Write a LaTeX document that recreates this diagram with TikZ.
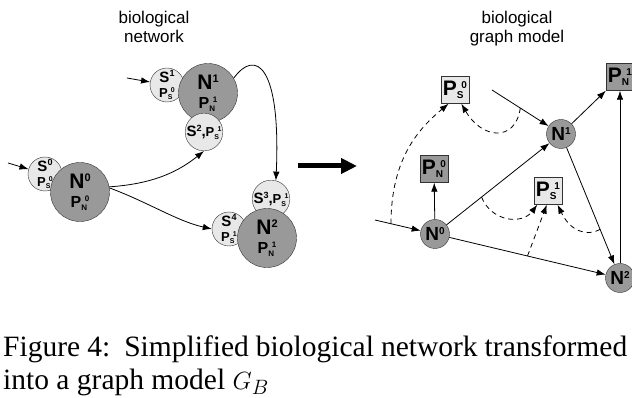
\documentclass[tikz,border=0pt]{standalone}
\usepackage{fontspec}
\setmainfont{Liberation Serif}
\setsansfont{Liberation Sans}
\usetikzlibrary{arrows.meta}

% letter with superscript, and letter with stacked sub/superscript
\newcommand{\supx}[3]{\textbf{#1}{\fontsize{#3}{#3}\selectfont\raisebox{0.65em}{#2}}}
\newcommand{\pidx}[4]{\textbf{#1}{\fontsize{#4}{#4}\selectfont\bfseries\rlap{\raisebox{-0.3em}{#2}}\raisebox{0.75em}{\hspace{0.45em}#3}}}
\newcommand{\smallp}[2]{{\fontsize{13}{16}\selectfont\pidx{P}{#1}{#2}{7}}}

\begin{document}
\begin{tikzpicture}[x=1pt, y=-1pt,
    bignode/.style={circle, draw=black!80, fill=gray!80, minimum size=59pt, inner sep=0pt, align=center, font=\sffamily\bfseries\fontsize{21}{19}\selectfont},
    smallnode/.style={circle, draw=black!80, fill=gray!18, minimum size=34pt, inner sep=0pt, align=center, font=\sffamily\bfseries\fontsize{15}{15}\selectfont},
    gnode/.style={circle, draw=black!80, fill=gray!80, minimum size=29pt, inner sep=0pt, font=\sffamily\bfseries\fontsize{19}{19}\selectfont},
    sbox/.style={rectangle, draw=black!80, fill=gray!18, minimum width=28pt, minimum height=27pt, inner sep=0pt, font=\sffamily\bfseries\fontsize{21}{21}\selectfont},
    nbox/.style={sbox, fill=gray!80},
    title/.style={align=center, inner sep=0pt, font=\sffamily\fontsize{17}{19}\selectfont},
    link/.style={-{Latex[length=9pt,width=6.5pt]}, line width=0.8pt},
    dlink/.style={link, dash pattern=on 5pt off 4pt}
]
\useasboundingbox (0,0) rectangle (632,398);

% Titles
\node[title, anchor=north] (tleft) at (154,11) {biological\\network};
\node[title, anchor=north] (tright) at (517,11) {biological\\graph model};

% Biological network - small circles behind
\node[smallnode] (S1) at (167,85) {\supx{S}{1}{9}\\\smallp{S}{0}};
\node[smallnode] (S0) at (45,174) {\supx{S}{0}{9}\\\smallp{S}{0}};
\node[smallnode] (S3) at (271,199) {\supx{S}{3}{9},\smallp{S}{1}};
\node[smallnode] (S4) at (229,229) {\supx{S}{4}{9}\\\smallp{S}{1}};

% Biological network - big circles
\node[bignode] (N1) at (208,93) {\supx{N}{1}{11}\\{\fontsize{16}{19}\selectfont\pidx{P}{N}{1}{8}}};
\node[bignode] (N0) at (80,192) {\supx{N}{0}{11}\\{\fontsize{16}{19}\selectfont\pidx{P}{N}{0}{8}}};
\node[bignode] (N2) at (267,238) {\supx{N}{2}{11}\\{\fontsize{16}{19}\selectfont\pidx{P}{N}{1}{8}}};
\node[smallnode] (S2) at (204,132) {\supx{S}{2}{9},\smallp{S}{1}};

% Inputs and connections
\coordinate (in1) at (127,78);
\coordinate (in0) at (8,163);
\draw[link] (in1) -- (S1);
\draw[link] (in0) -- (S0);
\draw[link] (N0.10) .. controls +(45,-3) and +(-25,20) .. (S2.south);
\draw[link] (N0.8) .. controls +(40,15) and +(-35,-8) .. (S4.west);
\draw[link] (N1.30) .. controls +(22,-30) and +(5,-115) .. (S3.75);

% Transformation arrow
\coordinate (ar0) at (298,166);
\coordinate (ar1) at (357,166);
\draw[line width=5pt, -{Triangle[length=16pt,width=15pt]}] (ar0) -- (ar1);

% Graph model
\node[sbox] (PS0) at (455,90) {\pidx{P}{S}{0}{10}};
\node[nbox] (PN1) at (620,77) {\pidx{P}{N}{1}{10}};
\node[gnode] (G1) at (561,134) {\supx{N}{1}{10}};
\node[nbox] (PN0) at (434,169) {\pidx{P}{N}{0}{10}};
\node[sbox] (PS1) at (548,191) {\pidx{P}{S}{1}{10}};
\node[gnode] (G0) at (435,234) {\supx{N}{0}{10}};
\node[gnode] (G2) at (620,278) {\supx{N}{2}{10}};

\coordinate (gin0) at (375,220);
\coordinate (gin1) at (492,90);
\draw[link] (gin0) -- coordinate[pos=0.35] (d0) (G0);
\draw[link] (gin1) -- coordinate[pos=0.5] (d1) (G1);
\draw[link] (G0) -- (PN0);
\draw[link] (G0) -- coordinate[pos=0.34] (e01) (G1);
\draw[link] (G0) -- coordinate[pos=0.5] (e02) (G2);
\draw[link] (G1) -- (PN1);
\draw[link] (G1) -- coordinate[pos=0.7] (e12) (G2);
\draw[link] (G2) -- (PN1);

% Dashed links to the parameters
\draw[dlink] (d0) .. controls +(0,-65) and +(-30,25) .. (PS0.-115);
\draw[dlink] (d1) .. controls +(-5,35) and +(20,35) .. (PS0.-65);
\draw[dlink] (e01) .. controls +(10,25) and +(-15,20) .. (PS1.-128);
\draw[dlink] (e02) -- (PS1.-95);
\draw[dlink] (e12) .. controls +(-15,8) and +(12,25) .. (PS1.-55);

% Caption
\node[anchor=base west, inner sep=0pt, font=\fontsize{29.5}{33}\selectfont] (cap1) at (3,356) {\makebox[624pt][s]{Figure 4:\ \ Simplified biological network transformed}};
\node[anchor=base west, inner sep=0pt, font=\fontsize{29.5}{33}\selectfont] (cap2) at (3,389) {into a graph model $G_B$};
\end{tikzpicture}
\end{document}
